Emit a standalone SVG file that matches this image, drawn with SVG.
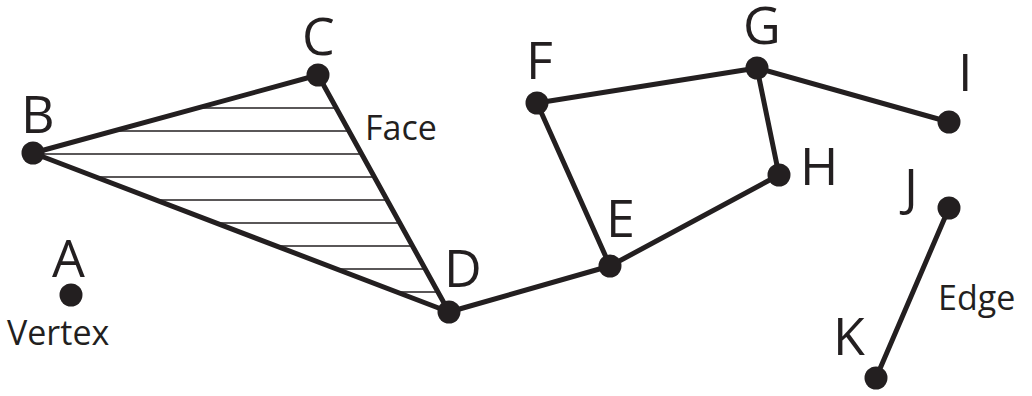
<svg xmlns="http://www.w3.org/2000/svg" width="1032" height="396" viewBox="0 0 1032 396">
<style>
.e{stroke:#231f20;stroke-width:5;fill:none;stroke-linecap:round}
.h{stroke:#231f20;stroke-width:1.6}
.v{fill:#231f20}
.big{font-family:"Open Sans","Liberation Sans",sans-serif;font-size:52px;fill:#231f20}
.sm{font-family:"Open Sans","Liberation Sans",sans-serif;font-size:34px;fill:#231f20}
</style>
<defs>
<clipPath id="tri"><polygon points="33,153 318,75 449,312"/></clipPath>
</defs>
<rect width="1032" height="396" fill="#fff"/>
<g id="face-hatch" clip-path="url(#tri)">
<line class="h" x1="0" y1="108" x2="500" y2="108"/>
<line class="h" x1="0" y1="131" x2="500" y2="131"/>
<line class="h" x1="0" y1="154" x2="500" y2="154"/>
<line class="h" x1="0" y1="177" x2="500" y2="177"/>
<line class="h" x1="0" y1="200" x2="500" y2="200"/>
<line class="h" x1="0" y1="223" x2="500" y2="223"/>
<line class="h" x1="0" y1="246" x2="500" y2="246"/>
<line class="h" x1="0" y1="269" x2="500" y2="269"/>
<line class="h" x1="0" y1="292" x2="500" y2="292"/>
</g>
<g id="connectors">
<line class="e" x1="33" y1="153" x2="318" y2="75"/>
<line class="e" x1="318" y1="75" x2="449" y2="312"/>
<line class="e" x1="33" y1="153" x2="449" y2="312"/>
<line class="e" x1="449" y1="312" x2="610" y2="266"/>
<line class="e" x1="610" y1="266" x2="537" y2="103"/>
<line class="e" x1="537" y1="103" x2="757" y2="68"/>
<line class="e" x1="757" y1="68" x2="779" y2="175"/>
<line class="e" x1="779" y1="175" x2="610" y2="266"/>
<line class="e" x1="757" y1="68" x2="949" y2="122"/>
<line class="e" x1="949" y1="208" x2="876" y2="378"/>
</g>
<g id="A"><circle class="v" cx="71" cy="295" r="11.5"/><text class="big" x="52" y="277">A</text></g>
<g id="B"><circle class="v" cx="33" cy="153" r="11.5"/><text class="big" x="21" y="133">B</text></g>
<g id="C"><circle class="v" cx="318" cy="75" r="11.5"/><text class="big" x="302" y="55">C</text></g>
<g id="D"><circle class="v" cx="449" cy="312" r="11.5"/><text class="big" x="444" y="287">D</text></g>
<g id="E"><circle class="v" cx="610" cy="266" r="11.5"/><text class="big" x="606" y="237">E</text></g>
<g id="F"><circle class="v" cx="537" cy="103" r="11.5"/><text class="big" x="526" y="79">F</text></g>
<g id="G"><circle class="v" cx="757" cy="68" r="11.5"/><text class="big" x="743" y="44">G</text></g>
<g id="H"><circle class="v" cx="779" cy="175" r="11.5"/><text class="big" x="800" y="185">H</text></g>
<g id="I"><circle class="v" cx="949" cy="122" r="11.5"/><text class="big" x="958" y="91">I</text></g>
<g id="J"><circle class="v" cx="949" cy="208" r="11.5"/><text class="big" x="904" y="206">J</text></g>
<g id="K"><circle class="v" cx="876" cy="378" r="11.5"/><text class="big" x="833" y="355">K</text></g>
<g id="labels">
<text class="sm" x="365" y="140">Face</text>
<text class="sm" x="7" y="345">Vertex</text>
<text class="sm" x="938" y="310">Edge</text>
</g>
</svg>
